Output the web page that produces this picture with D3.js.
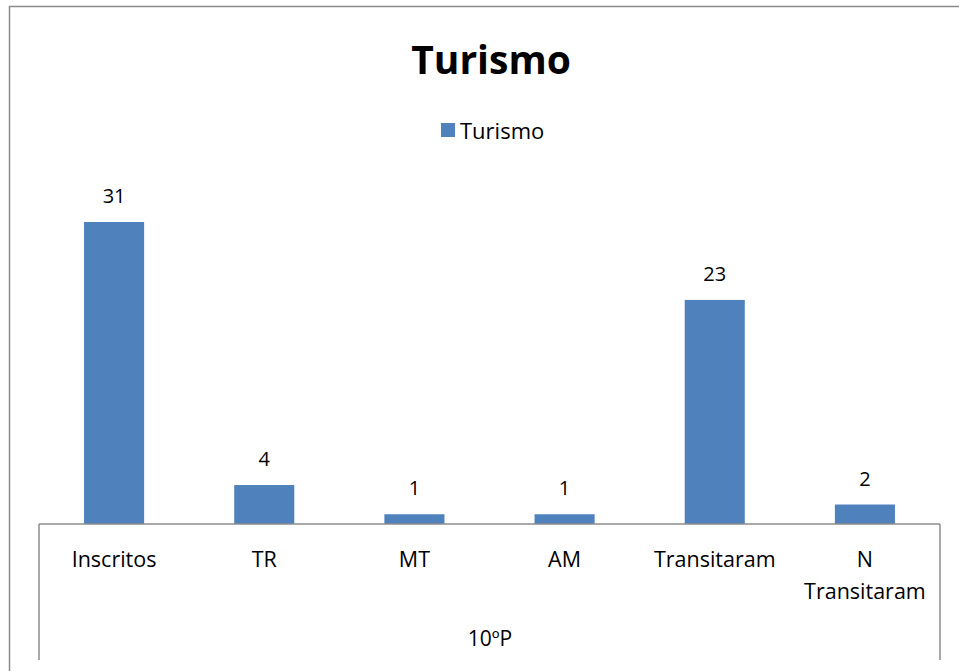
<!DOCTYPE html>
<html><head><meta charset="utf-8">
<script src="https://cdn.jsdelivr.net/npm/d3@7"></script>
<style>html,body{margin:0;padding:0;background:#fff;}svg{display:block;}</style>
</head><body>
<svg id="c" width="959" height="671"></svg>
<script>
const categories = ["Inscritos","TR","MT","AM","Transitaram","N Transitaram"];
const values = [31,4,1,1,23,2];
const seriesName = "Turismo";
const groupLabel = "10ºP";
const title = "Turismo";

const svg = d3.select("#c");
const font = "'Open Sans', 'Noto Sans', sans-serif";
const barColor = "#4F81BD";

// outer frame
svg.append("rect").attr("x",9.5).attr("y",6.5).attr("width",960).attr("height",700)
  .attr("fill","none").attr("stroke","#8c8c8c").attr("stroke-width",1.5);

const left = 39, right = 940, baseY = 524;
const x = d3.scaleBand().domain(categories).range([left,right]).paddingInner(0.6).paddingOuter(0.3);
const y = d3.scaleLinear().domain([0,31]).range([baseY,222]);

svg.append("text").attr("x",491).attr("y",74).attr("text-anchor","middle")
  .attr("font-family",font).attr("font-weight","bold").attr("font-size",39).text(title);

// legend
svg.append("rect").attr("x",441).attr("y",123).attr("width",14).attr("height",14).attr("fill",barColor);
svg.append("text").attr("x",460).attr("y",139).attr("font-family",font).attr("font-size",22).attr("fill","#000").text(seriesName);

svg.selectAll("rect.bar").data(values).enter().append("rect").attr("class","bar")
  .attr("x",(d,i)=>x(categories[i])).attr("width",x.bandwidth())
  .attr("y",d=>y(d)).attr("height",d=>baseY-y(d)).attr("fill",barColor);

svg.selectAll("text.val").data(values).enter().append("text").attr("class","val")
  .attr("x",(d,i)=>x(categories[i])+x.bandwidth()/2).attr("y",d=>y(d)-19)
  .attr("text-anchor","middle").attr("font-family",font).attr("font-size",20).text(d=>d);

// axis
const g = svg.append("g");
g.append("line").attr("x1",left).attr("x2",right).attr("y1",baseY).attr("y2",baseY).attr("stroke","#8c8c8c").attr("stroke-width",1.5);
g.append("line").attr("x1",left).attr("x2",left).attr("y1",baseY).attr("y2",660).attr("stroke","#8c8c8c").attr("stroke-width",1.5);
g.append("line").attr("x1",right).attr("x2",right).attr("y1",baseY).attr("y2",660).attr("stroke","#8c8c8c").attr("stroke-width",1.5);

categories.forEach((c,i)=>{
  const cx = x(c)+x.bandwidth()/2;
  const words = c==="N Transitaram" ? ["N","Transitaram"] : [c];
  words.forEach((w,j)=>{
    svg.append("text").attr("x",cx).attr("y",567+j*32).attr("text-anchor","middle")
      .attr("font-family",font).attr("font-size",21.5).text(w);
  });
});
svg.append("text").attr("x",490).attr("y",646).attr("text-anchor","middle")
  .attr("font-family",font).attr("font-size",21).text(groupLabel);
</script>
</body></html>
